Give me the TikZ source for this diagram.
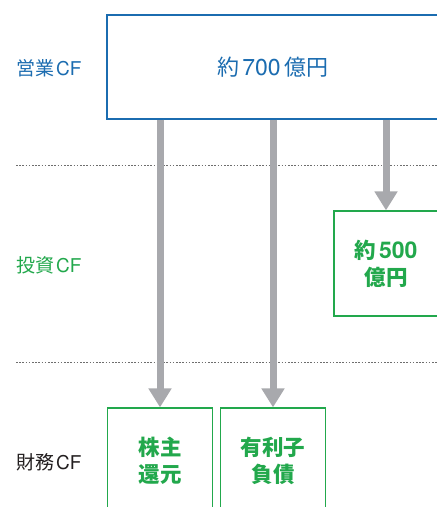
\documentclass[tikz,border=0pt]{standalone}
\usepackage{fontspec}
\setmainfont{Noto Sans CJK JP}
\newfontfamily\lat{TeX Gyre Heros}
\usetikzlibrary{arrows.meta}
\definecolor{cfblue}{HTML}{1B6CB0}
\definecolor{cfgreen}{HTML}{22A84C}
\definecolor{cfgray}{HTML}{A8A9AD}
\definecolor{cfdot}{HTML}{6E6E6E}
\definecolor{cfblack}{HTML}{231F20}
\begin{document}
\begin{tikzpicture}[x=1pt,y=-1pt,
  bluebox/.style={draw=cfblue,line width=1.2pt,fill=white,inner sep=0pt,text=cfblue,font=\fontsize{22}{26}\selectfont},
  greenbox/.style={draw=cfgreen,line width=1.2pt,fill=white,inner sep=0pt,text=cfgreen,align=center,font=\fontsize{21.5}{27}\bfseries\selectfont},
  rowlabel/.style={anchor=west,inner sep=0pt,font=\fontsize{19}{22}\selectfont},
  sep/.style={draw=cfdot,line width=0.8pt,dash pattern=on 1.6pt off 1.6pt},
  arr/.style={draw=cfgray,line width=7pt,-{Triangle[width=22pt,length=19pt]}}]
\clip (0,0) rectangle (437,507);
\fill[white] (0,0) rectangle (437,507);
% separators
\draw[sep] (16,165) -- (437,165);
\draw[sep] (16,362) -- (437,362);
% row labels
\node[rowlabel,text=cfblue] (l1) at (16,68) {営業\hspace{2pt}{\lat CF}};
\node[rowlabel,text=cfgreen] (l2) at (16,265) {投資\hspace{2pt}{\lat CF}};
\node[rowlabel,text=cfblack] (l3) at (16,462) {財務\hspace{2pt}{\lat CF}};
% boxes
\node[bluebox,minimum width=332pt,minimum height=104pt] (op) at (273,67) {約\hspace{3pt}{\lat\fontsize{23}{26}\selectfont 700}\hspace{4pt}億円};
\node[greenbox,minimum width=104pt,minimum height=105pt] (inv) at (386,263.5) {約\hspace{3pt}{\lat\fontsize{23}{27}\selectfont 500}\\億円};
\node[greenbox,minimum width=105pt,minimum height=106pt] (sh) at (160,461) {株主\\還元};
\node[greenbox,minimum width=105pt,minimum height=106pt] (debt) at (273,461) {有利子\\負債};
% arrows
\draw[arr] (op.south -| sh.north) -- (sh.north);
\draw[arr] (op.south -| debt.north) -- (debt.north);
\draw[arr] (op.south -| inv.north) -- (inv.north);
\end{tikzpicture}
\end{document}
